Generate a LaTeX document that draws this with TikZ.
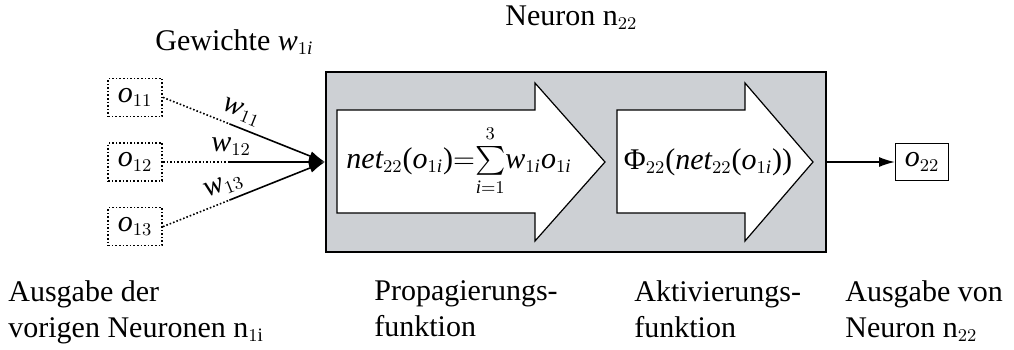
\documentclass[tikz,border=0pt]{standalone}
\usepackage{amsmath}
\usepackage{fontspec}
\setmainfont{Liberation Serif}
\DeclareMathSizes{15}{15}{9.5}{7}
\usetikzlibrary{
  arrows.meta,
  positioning,
  calc
}
\definecolor{boxgray}{RGB}{205,208,212}
\newcommand{\lpar}{\mbox{(}}
\newcommand{\rpar}{\mbox{)}}

\begin{document}
\begin{tikzpicture}[x=0.5pt, y=-0.5pt, font=\fontsize{15}{18}\selectfont,
  inbox/.style={draw, densely dotted, line width=0.8pt, minimum width=27pt, minimum height=19pt, inner sep=0pt},
  flow/.style={draw, fill=white, line width=0.6pt, line join=miter},
  wire/.style={-{Latex[length=8pt,width=5pt]}, line width=0.8pt},
  caption/.style={anchor=north west, inner sep=0pt, align=left}]
  \useasboundingbox (0,0) rectangle (1014,349);
  % neuron with its two stages
  \node[draw, line width=1pt, fill=boxgray, minimum width=250pt, minimum height=90pt] (neuron) at (576,162) {};
  \draw[flow] (337,110) -- (535,110) -- (535,83) -- (605,162) -- (535,241) -- (535,213) -- (337,213) -- cycle;
  \draw[flow] (617,110) -- (745,110) -- (745,83) -- (813,162) -- (745,241) -- (745,213) -- (617,213) -- cycle;
  \node[inner sep=0pt] (prop) at (459,162) {$\mathit{net}_{22}\lpar\mathit{o}_{1\mathit{i}}\rpar\mathord{=}\!\sum\limits_{\mathstrut\mathit{i}=1}^{\mathstrut 3}\!\mathit{w}_{1\mathit{i}}\mathit{o}_{1\mathit{i}}$};
  \node[inner sep=0pt] (akt) at (708,162) {$\mbox{Φ}_{22}\lpar\mathit{net}_{22}\lpar\mathit{o}_{1\mathit{i}}\rpar\rpar$};
  % output
  \node[draw, line width=0.6pt, minimum width=26.5pt, minimum height=18.5pt, inner sep=0pt, right=34pt of neuron] (o22) {$\mathit{o}_{22}$};
  \draw[wire] (neuron) -- (o22);
  % inputs
  \node[inbox, left=81pt of neuron] (o12) {$\mathit{o}_{12}$};
  \node[inbox, above=12.5pt of o12] (o11) {$\mathit{o}_{11}$};
  \node[inbox, below=12.5pt of o12] (o13) {$\mathit{o}_{13}$};
  \foreach \k/\p in {11/0.45, 12/0.42, 13/0.41} {
    \draw[densely dotted, line width=0.8pt] (o\k.east) -- ($(o\k.east)!0.41!(neuron.west)$) coordinate (m\k);
    \draw[wire] (m\k) -- (neuron.west);
    \path (o\k.east) -- node[sloped, above=3pt, pos=\p, inner sep=0pt] (w\k) {$\mathit{w}_{\k}$} (neuron.west);
  }
  % labels
  \node[anchor=base west, inner sep=0pt] (gew) at (155,50) {Gewichte $\mathit{w}_{1\mathit{i}}$};
  \node[anchor=base west, inner sep=0pt] (titel) at (505,25) {Neuron n$_{22}$};
  \node[caption] (vorher) at (8,280) {Ausgabe der\\vorigen Neuronen n$_{1\mathrm{i}}$};
  \node[caption] (propcap) at (374,280) {Propagierungs-\\funktion};
  \node[caption] (aktcap) at (634,280) {Aktivierungs-\\funktion};
  \node[caption] (outcap) at (845,280) {Ausgabe von\\Neuron n$_{22}$};
\end{tikzpicture}
\end{document}
